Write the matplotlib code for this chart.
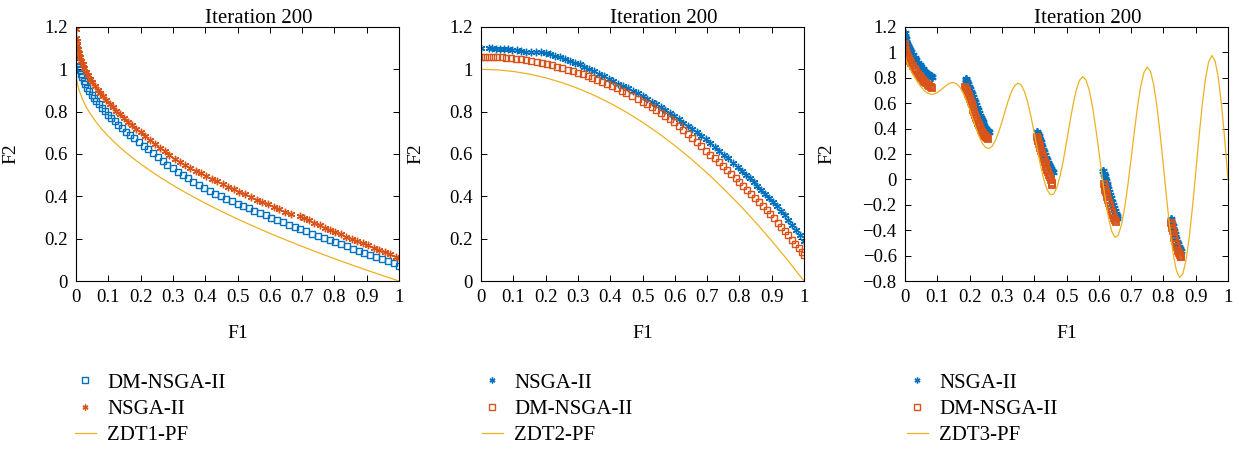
import matplotlib
matplotlib.use('Agg')
import matplotlib.pyplot as plt
from matplotlib.ticker import FixedLocator, FuncFormatter

plt.rcParams['font.family'] = ['Liberation Serif', 'DejaVu Serif']

BLUE = '#0072BD'
RED = '#D95319'
YELLOW = '#EDB120'

titles = ['Iteration 200', 'Iteration 200', 'Iteration 200']

# ---- ZDT1 ----
zdt1_dm_f1 = [0.000, 0.001, 0.003, 0.005, 0.008, 0.011, 0.015, 0.019, 0.024, 0.029, 0.035, 0.041,
              0.048, 0.055, 0.063, 0.071, 0.080, 0.089, 0.099, 0.109, 0.120, 0.131, 0.143, 0.155,
              0.168, 0.181, 0.195, 0.209, 0.223, 0.238, 0.253, 0.268, 0.283, 0.299, 0.315, 0.331,
              0.347, 0.363, 0.380, 0.397, 0.414, 0.431, 0.448, 0.465, 0.482, 0.500, 0.517, 0.535,
              0.552, 0.570, 0.588, 0.605, 0.623, 0.641, 0.659, 0.677, 0.695, 0.713, 0.731, 0.749,
              0.767, 0.785, 0.803, 0.821, 0.839, 0.857, 0.875, 0.893, 0.911, 0.929, 0.947, 0.965,
              0.983, 1.000]
zdt1_dm_f2 = [1.100, 1.068, 1.045, 1.029, 1.010, 0.995, 0.978, 0.962, 0.945, 0.930, 0.913, 0.898,
              0.881, 0.866, 0.849, 0.834, 0.817, 0.802, 0.785, 0.770, 0.754, 0.738, 0.722, 0.706,
              0.690, 0.675, 0.658, 0.640, 0.622, 0.603, 0.585, 0.567, 0.550, 0.533, 0.517, 0.501,
              0.485, 0.470, 0.454, 0.438, 0.425, 0.412, 0.401, 0.389, 0.378, 0.366, 0.355, 0.344,
              0.333, 0.322, 0.310, 0.300, 0.289, 0.277, 0.266, 0.255, 0.244, 0.234, 0.223, 0.213,
              0.202, 0.193, 0.183, 0.173, 0.163, 0.153, 0.144, 0.133, 0.124, 0.113, 0.103, 0.093,
              0.083, 0.072]
zdt1_ns_f1 = [0.000, 0.001, 0.002, 0.004, 0.006, 0.009, 0.013, 0.017, 0.021, 0.026, 0.032, 0.038,
              0.044, 0.051, 0.059, 0.067, 0.075, 0.084, 0.094, 0.104, 0.114, 0.125, 0.137, 0.149,
              0.161, 0.174, 0.187, 0.201, 0.215, 0.229, 0.244, 0.259, 0.274, 0.289, 0.305, 0.321,
              0.337, 0.353, 0.370, 0.386, 0.403, 0.420, 0.437, 0.454, 0.471, 0.489, 0.506, 0.524,
              0.541, 0.559, 0.576, 0.594, 0.612, 0.630, 0.648, 0.666, 0.692, 0.706, 0.722, 0.738,
              0.754, 0.770, 0.787, 0.803, 0.820, 0.837, 0.854, 0.871, 0.888, 0.905, 0.922, 0.939,
              0.956, 0.973, 0.990, 1.000]
zdt1_ns_f2 = [1.190, 1.148, 1.133, 1.113, 1.097, 1.078, 1.058, 1.040, 1.024, 1.007, 0.988, 0.971,
              0.955, 0.938, 0.920, 0.904, 0.888, 0.872, 0.854, 0.838, 0.821, 0.804, 0.787, 0.769,
              0.753, 0.736, 0.720, 0.702, 0.683, 0.666, 0.647, 0.629, 0.612, 0.594, 0.578, 0.563,
              0.550, 0.536, 0.522, 0.509, 0.496, 0.483, 0.471, 0.458, 0.446, 0.434, 0.422, 0.409,
              0.398, 0.385, 0.374, 0.362, 0.351, 0.339, 0.327, 0.315, 0.306, 0.298, 0.286, 0.275,
              0.264, 0.252, 0.241, 0.231, 0.220, 0.210, 0.200, 0.189, 0.179, 0.169, 0.158, 0.147,
              0.136, 0.126, 0.115, 0.108]
zdt1_pf_f1 = [0, 0.0025, 0.005, 0.01, 0.02, 0.03, 0.04, 0.06, 0.08, 0.1, 0.125, 0.15, 0.175, 0.2,
              0.25, 0.3, 0.35, 0.4, 0.45, 0.5, 0.55, 0.6, 0.65, 0.7, 0.75, 0.8, 0.85, 0.9, 0.95, 1.0]
zdt1_pf_f2 = [1.0, 0.95, 0.9293, 0.9, 0.8586, 0.8268, 0.8, 0.7551, 0.7172, 0.6838, 0.6464, 0.6127,
              0.5817, 0.5528, 0.5, 0.4523, 0.4084, 0.3675, 0.3292, 0.2929, 0.2584, 0.2254, 0.1938,
              0.1633, 0.134, 0.1056, 0.078, 0.0513, 0.0253, 0.0]

# ---- ZDT2 ----
zdt2_ns_f1 = [0.0, 0.025, 0.035, 0.045, 0.058, 0.07, 0.083, 0.096, 0.11, 0.125, 0.14, 0.155, 0.17,
              0.185, 0.2, 0.215, 0.23, 0.245, 0.26, 0.275, 0.29, 0.305, 0.32, 0.335, 0.35, 0.365,
              0.38, 0.395, 0.41, 0.425, 0.44, 0.455, 0.47, 0.485, 0.5, 0.514, 0.528, 0.542, 0.556,
              0.57, 0.584, 0.598, 0.612, 0.626, 0.64, 0.654, 0.668, 0.682, 0.696, 0.71, 0.724,
              0.738, 0.752, 0.766, 0.78, 0.795, 0.808, 0.82, 0.832, 0.844, 0.856, 0.868, 0.88,
              0.892, 0.904, 0.916, 0.928, 0.94, 0.952, 0.964, 0.976, 0.988, 1.0]
zdt2_ns_f2 = [1.100, 1.099, 1.099, 1.098, 1.097, 1.096, 1.094, 1.092, 1.089, 1.086, 1.082, 1.080,
              1.084, 1.081, 1.077, 1.071, 1.064, 1.056, 1.049, 1.041, 1.032, 1.023, 1.013, 1.002,
              0.990, 0.979, 0.967, 0.954, 0.943, 0.932, 0.921, 0.910, 0.898, 0.886, 0.873, 0.860,
              0.847, 0.834, 0.821, 0.806, 0.793, 0.778, 0.763, 0.748, 0.733, 0.718, 0.702, 0.687,
              0.670, 0.652, 0.635, 0.616, 0.597, 0.579, 0.559, 0.538, 0.520, 0.502, 0.485, 0.467,
              0.449, 0.430, 0.411, 0.393, 0.373, 0.352, 0.331, 0.310, 0.287, 0.263, 0.239, 0.215,
              0.190]
zdt2_dm_f1 = [0.0, 0.012, 0.024, 0.036, 0.05, 0.064, 0.078, 0.092, 0.108, 0.124, 0.14, 0.156,
              0.172, 0.188, 0.204, 0.22, 0.236, 0.252, 0.268, 0.284, 0.3, 0.315, 0.33, 0.345, 0.36,
              0.375, 0.39, 0.405, 0.42, 0.435, 0.45, 0.466, 0.485, 0.5, 0.514, 0.528, 0.542, 0.556,
              0.57, 0.584, 0.598, 0.612, 0.626, 0.64, 0.654, 0.668, 0.682, 0.696, 0.71, 0.723,
              0.736, 0.749, 0.762, 0.775, 0.788, 0.8, 0.812, 0.824, 0.836, 0.848, 0.86, 0.872,
              0.884, 0.896, 0.907, 0.918, 0.929, 0.94, 0.951, 0.962, 0.973, 0.984, 0.993, 1.0]
zdt2_dm_f2 = [1.060, 1.060, 1.060, 1.059, 1.058, 1.057, 1.055, 1.053, 1.050, 1.047, 1.043, 1.039,
              1.035, 1.030, 1.025, 1.019, 1.013, 1.006, 0.999, 0.991, 0.984, 0.976, 0.967, 0.959,
              0.950, 0.941, 0.931, 0.921, 0.910, 0.899, 0.888, 0.875, 0.860, 0.848, 0.835, 0.821,
              0.808, 0.794, 0.779, 0.764, 0.749, 0.732, 0.714, 0.696, 0.676, 0.657, 0.636, 0.615,
              0.596, 0.579, 0.561, 0.543, 0.524, 0.505, 0.486, 0.468, 0.450, 0.431, 0.413, 0.394,
              0.374, 0.355, 0.336, 0.315, 0.296, 0.276, 0.257, 0.237, 0.216, 0.196, 0.175, 0.154,
              0.136, 0.123]
zdt2_pf_f1 = [0, 0.05, 0.1, 0.15, 0.2, 0.25, 0.3, 0.35, 0.4, 0.45, 0.5, 0.55, 0.6, 0.65, 0.7, 0.75,
              0.8, 0.85, 0.9, 0.95, 1.0]
zdt2_pf_f2 = [1.0, 0.9975, 0.99, 0.9775, 0.96, 0.9375, 0.91, 0.8775, 0.84, 0.7975, 0.75, 0.6975,
              0.64, 0.5775, 0.51, 0.4375, 0.36, 0.2775, 0.19, 0.0975, 0.0]

# ---- ZDT3 ----
zdt3_ns_f1 = [0.0, 0.001, 0.002, 0.004, 0.006, 0.009, 0.012, 0.016, 0.02, 0.025, 0.03, 0.035, 0.04,
              0.045, 0.05, 0.055, 0.06, 0.065, 0.07, 0.075, 0.08, 0.085,
              0.188, 0.19, 0.192, 0.195, 0.198, 0.201, 0.204, 0.207, 0.21, 0.213, 0.216, 0.219,
              0.222, 0.225, 0.228, 0.231, 0.234, 0.237, 0.24, 0.243, 0.246, 0.249, 0.252, 0.255,
              0.258, 0.261,
              0.41, 0.412, 0.414, 0.416, 0.418, 0.42, 0.422, 0.424, 0.427, 0.43, 0.433, 0.436,
              0.439, 0.442, 0.445, 0.448, 0.451, 0.454, 0.457,
              0.614, 0.616, 0.618, 0.62, 0.622, 0.624, 0.626, 0.628, 0.631, 0.634, 0.637, 0.64,
              0.643, 0.646, 0.649, 0.652, 0.655, 0.657,
              0.823, 0.825, 0.827, 0.829, 0.831, 0.833, 0.835, 0.837, 0.84, 0.843, 0.846, 0.849,
              0.852, 0.855]
zdt3_ns_f2 = [1.155, 1.125, 1.105, 1.085, 1.070, 1.050, 1.035, 1.015, 1.000, 0.978, 0.958, 0.937,
              0.918, 0.900, 0.882, 0.866, 0.852, 0.840, 0.830, 0.822, 0.812, 0.803,
              0.790, 0.780, 0.768, 0.750, 0.730, 0.710, 0.690, 0.670, 0.648, 0.627, 0.606, 0.585,
              0.564, 0.543, 0.523, 0.503, 0.484, 0.466, 0.449, 0.433, 0.418, 0.405, 0.394, 0.385,
              0.378, 0.373,
              0.375, 0.360, 0.345, 0.328, 0.310, 0.292, 0.274, 0.256, 0.235, 0.214, 0.193, 0.172,
              0.151, 0.131, 0.112, 0.095, 0.080, 0.068, 0.060,
              0.065, 0.045, 0.025, 0.005, -0.015, -0.035, -0.055, -0.075, -0.100, -0.125, -0.150,
              -0.175, -0.200, -0.225, -0.248, -0.270, -0.290, -0.305,
              -0.310, -0.330, -0.350, -0.370, -0.390, -0.410, -0.430, -0.450, -0.470, -0.490,
              -0.510, -0.530, -0.548, -0.565]
zdt3_dm_f1 = [0.0, 0.001, 0.002, 0.004, 0.006, 0.009, 0.012, 0.016, 0.02, 0.025, 0.03, 0.035, 0.04,
              0.045, 0.05, 0.055, 0.06, 0.065, 0.07, 0.075, 0.08, 0.085,
              0.187, 0.189, 0.191, 0.194, 0.197, 0.2, 0.203, 0.206, 0.209, 0.212, 0.215, 0.218,
              0.221, 0.224, 0.227, 0.23, 0.233, 0.236, 0.239, 0.242, 0.245, 0.248, 0.251, 0.254,
              0.257,
              0.409, 0.411, 0.413, 0.415, 0.417, 0.419, 0.421, 0.423, 0.426, 0.429, 0.432, 0.435,
              0.438, 0.441, 0.444, 0.447, 0.45, 0.452, 0.454, 0.455,
              0.616, 0.618, 0.62, 0.622, 0.624, 0.626, 0.628, 0.631, 0.634, 0.637, 0.64, 0.643,
              0.646, 0.649, 0.652,
              0.824, 0.826, 0.828, 0.83, 0.832, 0.834, 0.836, 0.839, 0.842, 0.845, 0.848, 0.851,
              0.854, 0.856]
zdt3_dm_f2 = [1.065, 1.040, 1.020, 1.000, 0.985, 0.965, 0.950, 0.930, 0.915, 0.893, 0.872, 0.852,
              0.833, 0.815, 0.798, 0.782, 0.768, 0.756, 0.746, 0.737, 0.729, 0.722,
              0.725, 0.710, 0.695, 0.675, 0.655, 0.635, 0.613, 0.592, 0.570, 0.549, 0.528, 0.507,
              0.486, 0.466, 0.446, 0.427, 0.409, 0.392, 0.376, 0.362, 0.350, 0.340, 0.332, 0.326,
              0.322,
              0.335, 0.318, 0.300, 0.282, 0.263, 0.244, 0.225, 0.206, 0.184, 0.162, 0.140, 0.118,
              0.096, 0.075, 0.055, 0.035, 0.016, -0.005, -0.025, -0.045,
              -0.040, -0.060, -0.080, -0.100, -0.120, -0.140, -0.160, -0.185, -0.210, -0.235,
              -0.260, -0.283, -0.305, -0.322, -0.335,
              -0.340, -0.360, -0.385, -0.410, -0.435, -0.460, -0.485, -0.510, -0.535, -0.560,
              -0.580, -0.598, -0.610, -0.612]
zdt3_pf_f1 = [0.0, 0.0025, 0.005] + [k / 100 for k in range(1, 101)]
zdt3_pf_f2 = [1.0, 0.95, 0.928,
              0.897, 0.847, 0.8025, 0.762, 0.7264, 0.698, 0.6788, 0.6702, 0.6722, 0.6838,
              0.7023, 0.7241, 0.7446, 0.759, 0.7627, 0.7522, 0.7252, 0.6815, 0.6228, 0.5528,
              0.4768, 0.4017, 0.3343, 0.2818, 0.25, 0.2428, 0.262, 0.3062, 0.3719, 0.4523,
              0.539, 0.6224, 0.6925, 0.7403, 0.7584, 0.7424, 0.691, 0.607, 0.495, 0.3675,
              0.233, 0.105, -0.0036, -0.0818, -0.1208, -0.1157, -0.0658, 0.0251, 0.1486, 0.2929,
              0.4435, 0.5846, 0.7008, 0.7788, 0.8084, 0.7843, 0.7061, 0.5793, 0.4142, 0.2254,
              0.0305, -0.1518, -0.3034, -0.4087, -0.4562, -0.4401, -0.3605, -0.2243, -0.0439, 0.1633,
              0.3768, 0.5747, 0.7362, 0.8436, 0.884, 0.851, 0.7454, 0.5753, 0.3553, 0.1056,
              -0.1503, -0.3875, -0.5825, -0.7154, -0.772, -0.7454, -0.6365, -0.4554, -0.2184, 0.0513,
              0.3273, 0.5816, 0.788, 0.9245, 0.9753, 0.9333, 0.7998, 0.5861, 0.3109, 0.0]

x_ticks = [0, 0.1, 0.2, 0.3, 0.4, 0.5, 0.6, 0.7, 0.8, 0.9, 1.0]
y_ticks_12 = [0, 0.2, 0.4, 0.6, 0.8, 1.0, 1.2]
y_ticks_3 = [-0.8, -0.6, -0.4, -0.2, 0, 0.2, 0.4, 0.6, 0.8, 1.0, 1.2]

W, H = 1239, 449
fig = plt.figure(figsize=(W / 100, H / 100), dpi=100)

ax_lefts = [76, 481, 905]
ax_w, ax_top, ax_bot = 323, 27, 281
axes = [fig.add_axes([l / W, (H - ax_bot) / H, ax_w / W, (ax_bot - ax_top) / H]) for l in ax_lefts]

star = (6, 2, 0)
sq_kw = dict(marker='s', ms=4.2, mfc='none', mew=1.0, ls='none')
st_kw = dict(marker=star, ms=5.4, mew=1.0, ls='none')
sq3_kw = dict(marker='s', ms=5.0, mfc='none', mew=1.3, ls='none')
st3_kw = dict(marker=star, ms=6.0, mew=1.3, ls='none')

# panel 1
ax = axes[0]
ax.plot(zdt1_dm_f1, zdt1_dm_f2, color=BLUE, label='DM-NSGA-II', **sq_kw)
ax.plot(zdt1_ns_f1, zdt1_ns_f2, color=RED, label='NSGA-II', **st_kw)
ax.plot(zdt1_pf_f1, zdt1_pf_f2, color=YELLOW, lw=0.9, label='ZDT1-PF')
ax.set_ylim(0, 1.2)

# panel 2
ax = axes[1]
ax.plot(zdt2_ns_f1, zdt2_ns_f2, color=BLUE, label='NSGA-II', **st_kw)
ax.plot(zdt2_dm_f1, zdt2_dm_f2, color=RED, label='DM-NSGA-II', **sq_kw)
ax.plot(zdt2_pf_f1, zdt2_pf_f2, color=YELLOW, lw=0.9, label='ZDT2-PF')
ax.set_ylim(0, 1.2)

# panel 3
ax = axes[2]
ax.plot(zdt3_ns_f1, zdt3_ns_f2, color=BLUE, label='NSGA-II', **st3_kw)
ax.plot(zdt3_dm_f1, zdt3_dm_f2, color=RED, label='DM-NSGA-II', **sq3_kw)
ax.plot(zdt3_pf_f1, zdt3_pf_f2, color=YELLOW, lw=0.9, label='ZDT3-PF')
ax.set_ylim(-0.8, 1.2)

fmt = FuncFormatter(lambda v, p: ('%g' % round(v, 2)).replace('-', '\u2212'))
legend_x = [75, 482, 907]
for i, ax in enumerate(axes):
    ax.set_xlim(0, 1)
    ax.xaxis.set_major_locator(FixedLocator(x_ticks))
    ax.yaxis.set_major_locator(FixedLocator(y_ticks_3 if i == 2 else y_ticks_12))
    ax.xaxis.set_major_formatter(fmt)
    ax.yaxis.set_major_formatter(fmt)
    ax.tick_params(direction='in', top=True, right=True, length=4, width=0.7,
                   labelsize=13.5, pad=6)
    for s in ax.spines.values():
        s.set_linewidth(0.8)
    ax.set_title(titles[i], x=0.565, fontsize=15, pad=3)
    ax.set_xlabel('F1', fontsize=14)
    ax.set_ylabel('F2', fontsize=14)
    ax.xaxis.set_label_coords(0.5, -0.175)
    ax.yaxis.set_label_coords(-0.217 if i == 2 else -0.174, 0.5)
    leg = ax.legend(loc='upper left', bbox_to_anchor=(legend_x[i] / W, (H - 373) / H),
                    bbox_transform=fig.transFigure, frameon=False, fontsize=15,
                    handlelength=1.0, handletextpad=0.55, labelspacing=0.32,
                    borderpad=0, borderaxespad=0)
    for h in leg.legend_handles:
        h.set_markersize(4.2)
        h.set_markeredgewidth(1.0)

fig.savefig('out.png', dpi=100)
